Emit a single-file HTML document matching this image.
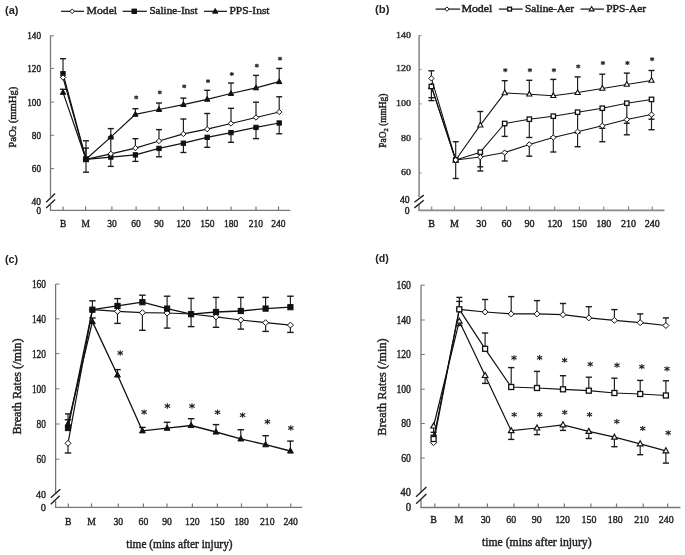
<!DOCTYPE html>
<html><head><meta charset="utf-8"><title>Figure</title>
<style>
html,body{margin:0;padding:0;background:#fff;}
body{width:685px;height:555px;overflow:hidden;}
svg{display:block;filter:blur(0.45px);}
</style></head>
<body>
<svg width="685" height="555" viewBox="0 0 685 555">
<rect width="685" height="555" fill="#fff"/>
<text x="5" y="13.6" font-size="10.5" font-family='"Liberation Sans", sans-serif' font-weight="bold" fill="#222" text-anchor="start" textLength="13.4" lengthAdjust="spacingAndGlyphs">(a)</text>
<line x1="61" y1="11.3" x2="84" y2="11.3" stroke="#111" stroke-width="1.2"/>
<polygon points="72.2,9 74.5,11.3 72.2,13.6 69.9,11.3" fill="#fff" stroke="#111" stroke-width="1"/>
<text x="86.5" y="14.4" font-size="10.6" font-family='"Liberation Serif", serif' font-weight="normal" fill="#1e1e1e" stroke="#1e1e1e" stroke-width="0.42" text-anchor="start" textLength="30.6" lengthAdjust="spacingAndGlyphs">Model</text>
<line x1="122.6" y1="11.3" x2="146.8" y2="11.3" stroke="#111" stroke-width="1.2"/>
<rect x="132" y="9.1" width="4.4" height="4.4" fill="#111" stroke="#111" stroke-width="1"/>
<text x="149.4" y="14.4" font-size="10.6" font-family='"Liberation Serif", serif' font-weight="normal" fill="#1e1e1e" stroke="#1e1e1e" stroke-width="0.42" text-anchor="start" textLength="48.2" lengthAdjust="spacingAndGlyphs">Saline-Inst</text>
<line x1="204" y1="11.3" x2="227" y2="11.3" stroke="#111" stroke-width="1.2"/>
<polygon points="215.2,8.49 217.8,13.17 212.6,13.17" fill="#111" stroke="#111" stroke-width="1" stroke-linejoin="miter"/>
<text x="229.5" y="14.4" font-size="10.6" font-family='"Liberation Serif", serif' font-weight="normal" fill="#1e1e1e" stroke="#1e1e1e" stroke-width="0.42" text-anchor="start" textLength="40" lengthAdjust="spacingAndGlyphs">PPS-Inst</text>
<line x1="50.5" y1="35.5" x2="50.5" y2="196.5" stroke="#777" stroke-width="1.3"/>
<line x1="50.5" y1="205" x2="50.5" y2="210.4" stroke="#777" stroke-width="1.3"/>
<line x1="49.85" y1="210.4" x2="290.3" y2="210.4" stroke="#777" stroke-width="1.3"/>
<line x1="50.5" y1="35.8" x2="54" y2="35.8" stroke="#777" stroke-width="1"/>
<line x1="50.5" y1="68.4" x2="54" y2="68.4" stroke="#777" stroke-width="1"/>
<line x1="50.5" y1="102.1" x2="54" y2="102.1" stroke="#777" stroke-width="1"/>
<line x1="50.5" y1="135.3" x2="54" y2="135.3" stroke="#777" stroke-width="1"/>
<line x1="50.5" y1="168.6" x2="54" y2="168.6" stroke="#777" stroke-width="1"/>
<line x1="63.1" y1="206.4" x2="63.1" y2="210.4" stroke="#777" stroke-width="1.2"/>
<line x1="85.6" y1="206.4" x2="85.6" y2="210.4" stroke="#777" stroke-width="1.2"/>
<line x1="111.9" y1="206.4" x2="111.9" y2="210.4" stroke="#777" stroke-width="1.2"/>
<line x1="136.1" y1="206.4" x2="136.1" y2="210.4" stroke="#777" stroke-width="1.2"/>
<line x1="159" y1="206.4" x2="159" y2="210.4" stroke="#777" stroke-width="1.2"/>
<line x1="183.5" y1="206.4" x2="183.5" y2="210.4" stroke="#777" stroke-width="1.2"/>
<line x1="207.4" y1="206.4" x2="207.4" y2="210.4" stroke="#777" stroke-width="1.2"/>
<line x1="231.1" y1="206.4" x2="231.1" y2="210.4" stroke="#777" stroke-width="1.2"/>
<line x1="256" y1="206.4" x2="256" y2="210.4" stroke="#777" stroke-width="1.2"/>
<line x1="278.5" y1="206.4" x2="278.5" y2="210.4" stroke="#777" stroke-width="1.2"/>
<line x1="46.2" y1="202.3" x2="55.1" y2="193.6" stroke="#222" stroke-width="1.4"/>
<line x1="46.2" y1="208" x2="55.1" y2="199.6" stroke="#222" stroke-width="1.4"/>
<text x="41" y="39.2" font-size="10.2" font-family='"Liberation Serif", serif' font-weight="normal" fill="#1e1e1e" stroke="#1e1e1e" stroke-width="0.42" text-anchor="end" textLength="13.8" lengthAdjust="spacingAndGlyphs">140</text>
<text x="41" y="71.8" font-size="10.2" font-family='"Liberation Serif", serif' font-weight="normal" fill="#1e1e1e" stroke="#1e1e1e" stroke-width="0.42" text-anchor="end" textLength="13.8" lengthAdjust="spacingAndGlyphs">120</text>
<text x="41" y="105.5" font-size="10.2" font-family='"Liberation Serif", serif' font-weight="normal" fill="#1e1e1e" stroke="#1e1e1e" stroke-width="0.42" text-anchor="end" textLength="13.8" lengthAdjust="spacingAndGlyphs">100</text>
<text x="41" y="138.7" font-size="10.2" font-family='"Liberation Serif", serif' font-weight="normal" fill="#1e1e1e" stroke="#1e1e1e" stroke-width="0.42" text-anchor="end" textLength="9.2" lengthAdjust="spacingAndGlyphs">80</text>
<text x="41" y="172" font-size="10.2" font-family='"Liberation Serif", serif' font-weight="normal" fill="#1e1e1e" stroke="#1e1e1e" stroke-width="0.42" text-anchor="end" textLength="9.2" lengthAdjust="spacingAndGlyphs">60</text>
<text x="41" y="205.2" font-size="10.2" font-family='"Liberation Serif", serif' font-weight="normal" fill="#1e1e1e" stroke="#1e1e1e" stroke-width="0.42" text-anchor="end" textLength="9.4" lengthAdjust="spacingAndGlyphs">40</text>
<text x="41" y="214.3" font-size="10.2" font-family='"Liberation Serif", serif' font-weight="normal" fill="#1e1e1e" stroke="#1e1e1e" stroke-width="0.42" text-anchor="end" textLength="4.6" lengthAdjust="spacingAndGlyphs">0</text>
<g transform="translate(16.2,117.2) rotate(-90)">
<text x="0" y="0" font-size="10.6" font-family='"Liberation Serif", serif' font-weight="normal" fill="#1e1e1e" stroke="#1e1e1e" stroke-width="0.42" text-anchor="middle" textLength="61" lengthAdjust="spacingAndGlyphs">PaO<tspan font-size="7" dy="0">2</tspan> (mmHg)</text>
</g>
<text x="63.1" y="226.6" font-size="10.8" font-family='"Liberation Serif", serif' font-weight="normal" fill="#1e1e1e" stroke="#1e1e1e" stroke-width="0.42" text-anchor="middle" textLength="6.34" lengthAdjust="spacingAndGlyphs">B</text>
<text x="85.6" y="226.6" font-size="10.8" font-family='"Liberation Serif", serif' font-weight="normal" fill="#1e1e1e" stroke="#1e1e1e" stroke-width="0.42" text-anchor="middle" textLength="8.45" lengthAdjust="spacingAndGlyphs">M</text>
<text x="111.9" y="226.6" font-size="10.8" font-family='"Liberation Serif", serif' font-weight="normal" fill="#1e1e1e" stroke="#1e1e1e" stroke-width="0.42" text-anchor="middle" textLength="9.5" lengthAdjust="spacingAndGlyphs">30</text>
<text x="136.1" y="226.6" font-size="10.8" font-family='"Liberation Serif", serif' font-weight="normal" fill="#1e1e1e" stroke="#1e1e1e" stroke-width="0.42" text-anchor="middle" textLength="9.5" lengthAdjust="spacingAndGlyphs">60</text>
<text x="159" y="226.6" font-size="10.8" font-family='"Liberation Serif", serif' font-weight="normal" fill="#1e1e1e" stroke="#1e1e1e" stroke-width="0.42" text-anchor="middle" textLength="9.5" lengthAdjust="spacingAndGlyphs">90</text>
<text x="183.5" y="226.6" font-size="10.8" font-family='"Liberation Serif", serif' font-weight="normal" fill="#1e1e1e" stroke="#1e1e1e" stroke-width="0.42" text-anchor="middle" textLength="14.26" lengthAdjust="spacingAndGlyphs">120</text>
<text x="207.4" y="226.6" font-size="10.8" font-family='"Liberation Serif", serif' font-weight="normal" fill="#1e1e1e" stroke="#1e1e1e" stroke-width="0.42" text-anchor="middle" textLength="14.26" lengthAdjust="spacingAndGlyphs">150</text>
<text x="231.1" y="226.6" font-size="10.8" font-family='"Liberation Serif", serif' font-weight="normal" fill="#1e1e1e" stroke="#1e1e1e" stroke-width="0.42" text-anchor="middle" textLength="14.26" lengthAdjust="spacingAndGlyphs">180</text>
<text x="256" y="226.6" font-size="10.8" font-family='"Liberation Serif", serif' font-weight="normal" fill="#1e1e1e" stroke="#1e1e1e" stroke-width="0.42" text-anchor="middle" textLength="14.26" lengthAdjust="spacingAndGlyphs">210</text>
<text x="278.5" y="226.6" font-size="10.8" font-family='"Liberation Serif", serif' font-weight="normal" fill="#1e1e1e" stroke="#1e1e1e" stroke-width="0.42" text-anchor="middle" textLength="14.26" lengthAdjust="spacingAndGlyphs">240</text>
<line x1="63" y1="73.7" x2="63" y2="58.7" stroke="#1a1a1a" stroke-width="1.15"/>
<line x1="60" y1="58.7" x2="66" y2="58.7" stroke="#1a1a1a" stroke-width="1.4"/>
<line x1="63" y1="92.4" x2="63" y2="89.3" stroke="#1a1a1a" stroke-width="1.15"/>
<line x1="60" y1="89.3" x2="66" y2="89.3" stroke="#1a1a1a" stroke-width="1.4"/>
<line x1="86" y1="159.3" x2="86" y2="140.8" stroke="#1a1a1a" stroke-width="1.15"/>
<line x1="83" y1="140.8" x2="89" y2="140.8" stroke="#1a1a1a" stroke-width="1.4"/>
<line x1="86" y1="159.3" x2="86" y2="172.2" stroke="#1a1a1a" stroke-width="1.15"/>
<line x1="83" y1="172.2" x2="89" y2="172.2" stroke="#1a1a1a" stroke-width="1.4"/>
<line x1="86" y1="159.3" x2="86" y2="148.1" stroke="#1a1a1a" stroke-width="1.15"/>
<line x1="83" y1="148.1" x2="89" y2="148.1" stroke="#1a1a1a" stroke-width="1.4"/>
<line x1="110.8" y1="153.8" x2="110.8" y2="137" stroke="#1a1a1a" stroke-width="1.15"/>
<line x1="107.8" y1="137" x2="113.8" y2="137" stroke="#1a1a1a" stroke-width="1.4"/>
<line x1="110.8" y1="157.1" x2="110.8" y2="166.4" stroke="#1a1a1a" stroke-width="1.15"/>
<line x1="107.8" y1="166.4" x2="113.8" y2="166.4" stroke="#1a1a1a" stroke-width="1.4"/>
<line x1="110.8" y1="137.1" x2="110.8" y2="128.6" stroke="#1a1a1a" stroke-width="1.15"/>
<line x1="107.8" y1="128.6" x2="113.8" y2="128.6" stroke="#1a1a1a" stroke-width="1.4"/>
<line x1="135.4" y1="148.1" x2="135.4" y2="138.7" stroke="#1a1a1a" stroke-width="1.15"/>
<line x1="132.4" y1="138.7" x2="138.4" y2="138.7" stroke="#1a1a1a" stroke-width="1.4"/>
<line x1="135.4" y1="154.9" x2="135.4" y2="161.4" stroke="#1a1a1a" stroke-width="1.15"/>
<line x1="132.4" y1="161.4" x2="138.4" y2="161.4" stroke="#1a1a1a" stroke-width="1.4"/>
<line x1="135.4" y1="114.3" x2="135.4" y2="108.7" stroke="#1a1a1a" stroke-width="1.15"/>
<line x1="132.4" y1="108.7" x2="138.4" y2="108.7" stroke="#1a1a1a" stroke-width="1.4"/>
<line x1="159" y1="141" x2="159" y2="129.6" stroke="#1a1a1a" stroke-width="1.15"/>
<line x1="156" y1="129.6" x2="162" y2="129.6" stroke="#1a1a1a" stroke-width="1.4"/>
<line x1="159" y1="148.4" x2="159" y2="156.8" stroke="#1a1a1a" stroke-width="1.15"/>
<line x1="156" y1="156.8" x2="162" y2="156.8" stroke="#1a1a1a" stroke-width="1.4"/>
<line x1="159" y1="109.5" x2="159" y2="103" stroke="#1a1a1a" stroke-width="1.15"/>
<line x1="156" y1="103" x2="162" y2="103" stroke="#1a1a1a" stroke-width="1.4"/>
<line x1="183.4" y1="133.9" x2="183.4" y2="119" stroke="#1a1a1a" stroke-width="1.15"/>
<line x1="180.4" y1="119" x2="186.4" y2="119" stroke="#1a1a1a" stroke-width="1.4"/>
<line x1="183.4" y1="143.2" x2="183.4" y2="152.5" stroke="#1a1a1a" stroke-width="1.15"/>
<line x1="180.4" y1="152.5" x2="186.4" y2="152.5" stroke="#1a1a1a" stroke-width="1.4"/>
<line x1="183.4" y1="104.6" x2="183.4" y2="98.1" stroke="#1a1a1a" stroke-width="1.15"/>
<line x1="180.4" y1="98.1" x2="186.4" y2="98.1" stroke="#1a1a1a" stroke-width="1.4"/>
<line x1="207.2" y1="129.2" x2="207.2" y2="113.5" stroke="#1a1a1a" stroke-width="1.15"/>
<line x1="204.2" y1="113.5" x2="210.2" y2="113.5" stroke="#1a1a1a" stroke-width="1.4"/>
<line x1="207.2" y1="137.3" x2="207.2" y2="147.3" stroke="#1a1a1a" stroke-width="1.15"/>
<line x1="204.2" y1="147.3" x2="210.2" y2="147.3" stroke="#1a1a1a" stroke-width="1.4"/>
<line x1="207.2" y1="99.3" x2="207.2" y2="90.3" stroke="#1a1a1a" stroke-width="1.15"/>
<line x1="204.2" y1="90.3" x2="210.2" y2="90.3" stroke="#1a1a1a" stroke-width="1.4"/>
<line x1="231" y1="123.5" x2="231" y2="108.3" stroke="#1a1a1a" stroke-width="1.15"/>
<line x1="228" y1="108.3" x2="234" y2="108.3" stroke="#1a1a1a" stroke-width="1.4"/>
<line x1="231" y1="132.6" x2="231" y2="142.3" stroke="#1a1a1a" stroke-width="1.15"/>
<line x1="228" y1="142.3" x2="234" y2="142.3" stroke="#1a1a1a" stroke-width="1.4"/>
<line x1="231" y1="93.5" x2="231" y2="83" stroke="#1a1a1a" stroke-width="1.15"/>
<line x1="228" y1="83" x2="234" y2="83" stroke="#1a1a1a" stroke-width="1.4"/>
<line x1="256" y1="117.5" x2="256" y2="102.2" stroke="#1a1a1a" stroke-width="1.15"/>
<line x1="253" y1="102.2" x2="259" y2="102.2" stroke="#1a1a1a" stroke-width="1.4"/>
<line x1="256" y1="127.4" x2="256" y2="138.6" stroke="#1a1a1a" stroke-width="1.15"/>
<line x1="253" y1="138.6" x2="259" y2="138.6" stroke="#1a1a1a" stroke-width="1.4"/>
<line x1="256" y1="87.9" x2="256" y2="75.4" stroke="#1a1a1a" stroke-width="1.15"/>
<line x1="253" y1="75.4" x2="259" y2="75.4" stroke="#1a1a1a" stroke-width="1.4"/>
<line x1="279.2" y1="112" x2="279.2" y2="96.8" stroke="#1a1a1a" stroke-width="1.15"/>
<line x1="276.2" y1="96.8" x2="282.2" y2="96.8" stroke="#1a1a1a" stroke-width="1.4"/>
<line x1="279.2" y1="123" x2="279.2" y2="133.8" stroke="#1a1a1a" stroke-width="1.15"/>
<line x1="276.2" y1="133.8" x2="282.2" y2="133.8" stroke="#1a1a1a" stroke-width="1.4"/>
<line x1="279.2" y1="81.7" x2="279.2" y2="68.4" stroke="#1a1a1a" stroke-width="1.15"/>
<line x1="276.2" y1="68.4" x2="282.2" y2="68.4" stroke="#1a1a1a" stroke-width="1.4"/>
<polyline points="63,92.4 86,159.3 110.8,137.1 135.4,114.3 159,109.5 183.4,104.6 207.2,99.3 231,93.5 256,87.9 279.2,81.7" fill="none" stroke="#111" stroke-width="1.2" stroke-linejoin="round"/>
<polyline points="63,77.5 86,159.3 110.8,153.8 135.4,148.1 159,141 183.4,133.9 207.2,129.2 231,123.5 256,117.5 279.2,112" fill="none" stroke="#111" stroke-width="1.2" stroke-linejoin="round"/>
<polyline points="63,73.7 86,159.3 110.8,157.1 135.4,154.9 159,148.4 183.4,143.2 207.2,137.3 231,132.6 256,127.4 279.2,123" fill="none" stroke="#111" stroke-width="1.2" stroke-linejoin="round"/>
<polygon points="63,89.48 65.7,94.34 60.3,94.34" fill="#111" stroke="#111" stroke-width="1" stroke-linejoin="miter"/>
<polygon points="86,156.38 88.7,161.24 83.3,161.24" fill="#111" stroke="#111" stroke-width="1" stroke-linejoin="miter"/>
<polygon points="110.8,134.18 113.5,139.04 108.1,139.04" fill="#111" stroke="#111" stroke-width="1" stroke-linejoin="miter"/>
<polygon points="135.4,111.38 138.1,116.24 132.7,116.24" fill="#111" stroke="#111" stroke-width="1" stroke-linejoin="miter"/>
<polygon points="159,106.58 161.7,111.44 156.3,111.44" fill="#111" stroke="#111" stroke-width="1" stroke-linejoin="miter"/>
<polygon points="183.4,101.68 186.1,106.54 180.7,106.54" fill="#111" stroke="#111" stroke-width="1" stroke-linejoin="miter"/>
<polygon points="207.2,96.38 209.9,101.24 204.5,101.24" fill="#111" stroke="#111" stroke-width="1" stroke-linejoin="miter"/>
<polygon points="231,90.58 233.7,95.44 228.3,95.44" fill="#111" stroke="#111" stroke-width="1" stroke-linejoin="miter"/>
<polygon points="256,84.98 258.7,89.84 253.3,89.84" fill="#111" stroke="#111" stroke-width="1" stroke-linejoin="miter"/>
<polygon points="279.2,78.78 281.9,83.64 276.5,83.64" fill="#111" stroke="#111" stroke-width="1" stroke-linejoin="miter"/>
<rect x="60.85" y="71.55" width="4.3" height="4.3" fill="#111" stroke="#111" stroke-width="1"/>
<rect x="83.85" y="157.15" width="4.3" height="4.3" fill="#111" stroke="#111" stroke-width="1"/>
<rect x="108.65" y="154.95" width="4.3" height="4.3" fill="#111" stroke="#111" stroke-width="1"/>
<rect x="133.25" y="152.75" width="4.3" height="4.3" fill="#111" stroke="#111" stroke-width="1"/>
<rect x="156.85" y="146.25" width="4.3" height="4.3" fill="#111" stroke="#111" stroke-width="1"/>
<rect x="181.25" y="141.05" width="4.3" height="4.3" fill="#111" stroke="#111" stroke-width="1"/>
<rect x="205.05" y="135.15" width="4.3" height="4.3" fill="#111" stroke="#111" stroke-width="1"/>
<rect x="228.85" y="130.45" width="4.3" height="4.3" fill="#111" stroke="#111" stroke-width="1"/>
<rect x="253.85" y="125.25" width="4.3" height="4.3" fill="#111" stroke="#111" stroke-width="1"/>
<rect x="277.05" y="120.85" width="4.3" height="4.3" fill="#111" stroke="#111" stroke-width="1"/>
<polygon points="63,74.8 65.7,77.5 63,80.2 60.3,77.5" fill="#fff" stroke="#111" stroke-width="1"/>
<polygon points="86,156.6 88.7,159.3 86,162 83.3,159.3" fill="#fff" stroke="#111" stroke-width="1"/>
<polygon points="110.8,151.1 113.5,153.8 110.8,156.5 108.1,153.8" fill="#fff" stroke="#111" stroke-width="1"/>
<polygon points="135.4,145.4 138.1,148.1 135.4,150.8 132.7,148.1" fill="#fff" stroke="#111" stroke-width="1"/>
<polygon points="159,138.3 161.7,141 159,143.7 156.3,141" fill="#fff" stroke="#111" stroke-width="1"/>
<polygon points="183.4,131.2 186.1,133.9 183.4,136.6 180.7,133.9" fill="#fff" stroke="#111" stroke-width="1"/>
<polygon points="207.2,126.5 209.9,129.2 207.2,131.9 204.5,129.2" fill="#fff" stroke="#111" stroke-width="1"/>
<polygon points="231,120.8 233.7,123.5 231,126.2 228.3,123.5" fill="#fff" stroke="#111" stroke-width="1"/>
<polygon points="256,114.8 258.7,117.5 256,120.2 253.3,117.5" fill="#fff" stroke="#111" stroke-width="1"/>
<polygon points="279.2,109.3 281.9,112 279.2,114.7 276.5,112" fill="#fff" stroke="#111" stroke-width="1"/>
<rect x="83.6" y="156.9" width="4.8" height="4.8" fill="#111" stroke="#111" stroke-width="1"/>
<line x1="136.2" y1="95.5" x2="136.2" y2="99.3" stroke="#2a2a2a" stroke-width="1.2"/>
<line x1="134.31" y1="96.31" x2="138.09" y2="98.49" stroke="#2a2a2a" stroke-width="1.2"/>
<line x1="134.31" y1="98.49" x2="138.09" y2="96.31" stroke="#2a2a2a" stroke-width="1.2"/>
<line x1="159.8" y1="90.5" x2="159.8" y2="94.3" stroke="#2a2a2a" stroke-width="1.2"/>
<line x1="157.91" y1="91.31" x2="161.69" y2="93.49" stroke="#2a2a2a" stroke-width="1.2"/>
<line x1="157.91" y1="93.49" x2="161.69" y2="91.31" stroke="#2a2a2a" stroke-width="1.2"/>
<line x1="184.2" y1="84.4" x2="184.2" y2="88.2" stroke="#2a2a2a" stroke-width="1.2"/>
<line x1="182.31" y1="85.21" x2="186.09" y2="87.39" stroke="#2a2a2a" stroke-width="1.2"/>
<line x1="182.31" y1="87.39" x2="186.09" y2="85.21" stroke="#2a2a2a" stroke-width="1.2"/>
<line x1="208" y1="79.2" x2="208" y2="83" stroke="#2a2a2a" stroke-width="1.2"/>
<line x1="206.11" y1="80.01" x2="209.89" y2="82.19" stroke="#2a2a2a" stroke-width="1.2"/>
<line x1="206.11" y1="82.19" x2="209.89" y2="80.01" stroke="#2a2a2a" stroke-width="1.2"/>
<line x1="231.8" y1="72.1" x2="231.8" y2="75.9" stroke="#2a2a2a" stroke-width="1.2"/>
<line x1="229.91" y1="72.91" x2="233.69" y2="75.09" stroke="#2a2a2a" stroke-width="1.2"/>
<line x1="229.91" y1="75.09" x2="233.69" y2="72.91" stroke="#2a2a2a" stroke-width="1.2"/>
<line x1="256.8" y1="63.7" x2="256.8" y2="67.5" stroke="#2a2a2a" stroke-width="1.2"/>
<line x1="254.91" y1="64.51" x2="258.69" y2="66.69" stroke="#2a2a2a" stroke-width="1.2"/>
<line x1="254.91" y1="66.69" x2="258.69" y2="64.51" stroke="#2a2a2a" stroke-width="1.2"/>
<line x1="280" y1="56.8" x2="280" y2="60.6" stroke="#2a2a2a" stroke-width="1.2"/>
<line x1="278.11" y1="57.61" x2="281.89" y2="59.79" stroke="#2a2a2a" stroke-width="1.2"/>
<line x1="278.11" y1="59.79" x2="281.89" y2="57.61" stroke="#2a2a2a" stroke-width="1.2"/>
<text x="375" y="13.4" font-size="10.5" font-family='"Liberation Sans", sans-serif' font-weight="bold" fill="#222" text-anchor="start" textLength="14.4" lengthAdjust="spacingAndGlyphs">(b)</text>
<line x1="435.6" y1="9.1" x2="460" y2="9.1" stroke="#111" stroke-width="1.2"/>
<polygon points="447,6.9 449.2,9.1 447,11.3 444.8,9.1" fill="#fff" stroke="#111" stroke-width="1"/>
<text x="461.4" y="12.2" font-size="9.9" font-family='"Liberation Serif", serif' font-weight="normal" fill="#1e1e1e" stroke="#1e1e1e" stroke-width="0.42" text-anchor="start" textLength="31" lengthAdjust="spacingAndGlyphs">Model</text>
<line x1="498.8" y1="9.1" x2="522.7" y2="9.1" stroke="#111" stroke-width="1.2"/>
<rect x="507.7" y="7.2" width="3.8" height="3.8" fill="#fff" stroke="#111" stroke-width="1.3"/>
<text x="525" y="12.2" font-size="9.9" font-family='"Liberation Serif", serif' font-weight="normal" fill="#1e1e1e" stroke="#1e1e1e" stroke-width="0.42" text-anchor="start" textLength="49.1" lengthAdjust="spacingAndGlyphs">Saline-Aer</text>
<line x1="580.5" y1="9.1" x2="603.9" y2="9.1" stroke="#111" stroke-width="1.2"/>
<polygon points="591.6,6.51 594,10.83 589.2,10.83" fill="#fff" stroke="#111" stroke-width="1.1" stroke-linejoin="miter"/>
<text x="606.2" y="12.2" font-size="9.9" font-family='"Liberation Serif", serif' font-weight="normal" fill="#1e1e1e" stroke="#1e1e1e" stroke-width="0.42" text-anchor="start" textLength="40" lengthAdjust="spacingAndGlyphs">PPS-Aer</text>
<line x1="419.1" y1="35.5" x2="419.1" y2="197" stroke="#8a8a8a" stroke-width="1.6"/>
<line x1="419.1" y1="204.5" x2="419.1" y2="210.4" stroke="#8a8a8a" stroke-width="1.6"/>
<line x1="418.3" y1="210.4" x2="664.5" y2="210.4" stroke="#8a8a8a" stroke-width="1.6"/>
<line x1="419.1" y1="35.6" x2="421.6" y2="35.6" stroke="#8a8a8a" stroke-width="1"/>
<line x1="419.1" y1="69.4" x2="421.6" y2="69.4" stroke="#8a8a8a" stroke-width="1"/>
<line x1="419.1" y1="103.9" x2="421.6" y2="103.9" stroke="#8a8a8a" stroke-width="1"/>
<line x1="419.1" y1="138.8" x2="421.6" y2="138.8" stroke="#8a8a8a" stroke-width="1"/>
<line x1="419.1" y1="173" x2="421.6" y2="173" stroke="#8a8a8a" stroke-width="1"/>
<line x1="431.7" y1="206.4" x2="431.7" y2="210.4" stroke="#8a8a8a" stroke-width="1.2"/>
<line x1="454.5" y1="206.4" x2="454.5" y2="210.4" stroke="#8a8a8a" stroke-width="1.2"/>
<line x1="481.4" y1="206.4" x2="481.4" y2="210.4" stroke="#8a8a8a" stroke-width="1.2"/>
<line x1="506.5" y1="206.4" x2="506.5" y2="210.4" stroke="#8a8a8a" stroke-width="1.2"/>
<line x1="529.5" y1="206.4" x2="529.5" y2="210.4" stroke="#8a8a8a" stroke-width="1.2"/>
<line x1="554.7" y1="206.4" x2="554.7" y2="210.4" stroke="#8a8a8a" stroke-width="1.2"/>
<line x1="579.4" y1="206.4" x2="579.4" y2="210.4" stroke="#8a8a8a" stroke-width="1.2"/>
<line x1="603.7" y1="206.4" x2="603.7" y2="210.4" stroke="#8a8a8a" stroke-width="1.2"/>
<line x1="628.5" y1="206.4" x2="628.5" y2="210.4" stroke="#8a8a8a" stroke-width="1.2"/>
<line x1="652.3" y1="206.4" x2="652.3" y2="210.4" stroke="#8a8a8a" stroke-width="1.2"/>
<line x1="414.4" y1="202.3" x2="423.8" y2="195.1" stroke="#222" stroke-width="1.4"/>
<line x1="414.4" y1="207.9" x2="423.8" y2="200.3" stroke="#222" stroke-width="1.4"/>
<text x="411" y="37.6" font-size="8.8" font-family='"Liberation Serif", serif' font-weight="normal" fill="#333" stroke="#333" stroke-width="0.42" text-anchor="end" textLength="15" lengthAdjust="spacingAndGlyphs">140</text>
<text x="411" y="71.4" font-size="8.8" font-family='"Liberation Serif", serif' font-weight="normal" fill="#333" stroke="#333" stroke-width="0.42" text-anchor="end" textLength="15" lengthAdjust="spacingAndGlyphs">120</text>
<text x="411" y="105.9" font-size="8.8" font-family='"Liberation Serif", serif' font-weight="normal" fill="#333" stroke="#333" stroke-width="0.42" text-anchor="end" textLength="15" lengthAdjust="spacingAndGlyphs">100</text>
<text x="411" y="140.8" font-size="8.8" font-family='"Liberation Serif", serif' font-weight="normal" fill="#333" stroke="#333" stroke-width="0.42" text-anchor="end" textLength="10" lengthAdjust="spacingAndGlyphs">80</text>
<text x="411" y="175" font-size="8.8" font-family='"Liberation Serif", serif' font-weight="normal" fill="#333" stroke="#333" stroke-width="0.42" text-anchor="end" textLength="10" lengthAdjust="spacingAndGlyphs">60</text>
<text x="409.6" y="202.6" font-size="9.6" font-family='"Liberation Serif", serif' font-weight="normal" fill="#1e1e1e" stroke="#1e1e1e" stroke-width="0.42" text-anchor="end" textLength="9.6" lengthAdjust="spacingAndGlyphs">40</text>
<text x="409.6" y="214" font-size="9.6" font-family='"Liberation Serif", serif' font-weight="normal" fill="#1e1e1e" stroke="#1e1e1e" stroke-width="0.42" text-anchor="end" textLength="4.8" lengthAdjust="spacingAndGlyphs">0</text>
<g transform="translate(386.3,120.7) rotate(-90)">
<text x="0" y="0" font-size="9.4" font-family='"Liberation Serif", serif' font-weight="normal" fill="#1e1e1e" stroke="#1e1e1e" stroke-width="0.42" text-anchor="middle" textLength="54" lengthAdjust="spacingAndGlyphs">PaO<tspan font-size="6.5" dy="2">2</tspan><tspan dy="-2"> (mmHg)</tspan></text>
</g>
<text x="431.7" y="226.6" font-size="10.6" font-family='"Liberation Serif", serif' font-weight="normal" fill="#1e1e1e" stroke="#1e1e1e" stroke-width="0.42" text-anchor="middle" textLength="6.72" lengthAdjust="spacingAndGlyphs">B</text>
<text x="454.5" y="226.6" font-size="10.6" font-family='"Liberation Serif", serif' font-weight="normal" fill="#1e1e1e" stroke="#1e1e1e" stroke-width="0.42" text-anchor="middle" textLength="8.95" lengthAdjust="spacingAndGlyphs">M</text>
<text x="481.4" y="226.6" font-size="10.6" font-family='"Liberation Serif", serif' font-weight="normal" fill="#1e1e1e" stroke="#1e1e1e" stroke-width="0.42" text-anchor="middle" textLength="10.07" lengthAdjust="spacingAndGlyphs">30</text>
<text x="506.5" y="226.6" font-size="10.6" font-family='"Liberation Serif", serif' font-weight="normal" fill="#1e1e1e" stroke="#1e1e1e" stroke-width="0.42" text-anchor="middle" textLength="10.07" lengthAdjust="spacingAndGlyphs">60</text>
<text x="529.5" y="226.6" font-size="10.6" font-family='"Liberation Serif", serif' font-weight="normal" fill="#1e1e1e" stroke="#1e1e1e" stroke-width="0.42" text-anchor="middle" textLength="10.07" lengthAdjust="spacingAndGlyphs">90</text>
<text x="554.7" y="226.6" font-size="10.6" font-family='"Liberation Serif", serif' font-weight="normal" fill="#1e1e1e" stroke="#1e1e1e" stroke-width="0.42" text-anchor="middle" textLength="15.11" lengthAdjust="spacingAndGlyphs">120</text>
<text x="579.4" y="226.6" font-size="10.6" font-family='"Liberation Serif", serif' font-weight="normal" fill="#1e1e1e" stroke="#1e1e1e" stroke-width="0.42" text-anchor="middle" textLength="15.11" lengthAdjust="spacingAndGlyphs">150</text>
<text x="603.7" y="226.6" font-size="10.6" font-family='"Liberation Serif", serif' font-weight="normal" fill="#1e1e1e" stroke="#1e1e1e" stroke-width="0.42" text-anchor="middle" textLength="15.11" lengthAdjust="spacingAndGlyphs">180</text>
<text x="628.5" y="226.6" font-size="10.6" font-family='"Liberation Serif", serif' font-weight="normal" fill="#1e1e1e" stroke="#1e1e1e" stroke-width="0.42" text-anchor="middle" textLength="15.11" lengthAdjust="spacingAndGlyphs">210</text>
<text x="652.3" y="226.6" font-size="10.6" font-family='"Liberation Serif", serif' font-weight="normal" fill="#1e1e1e" stroke="#1e1e1e" stroke-width="0.42" text-anchor="middle" textLength="15.11" lengthAdjust="spacingAndGlyphs">240</text>
<line x1="431.4" y1="78.4" x2="431.4" y2="70.8" stroke="#1a1a1a" stroke-width="1.15"/>
<line x1="428.4" y1="70.8" x2="434.4" y2="70.8" stroke="#1a1a1a" stroke-width="1.4"/>
<line x1="431.4" y1="86.5" x2="431.4" y2="97.7" stroke="#1a1a1a" stroke-width="1.15"/>
<line x1="428.4" y1="97.7" x2="434.4" y2="97.7" stroke="#1a1a1a" stroke-width="1.4"/>
<line x1="431.4" y1="97.7" x2="431.4" y2="100.6" stroke="#1a1a1a" stroke-width="1.15"/>
<line x1="428.4" y1="100.6" x2="434.4" y2="100.6" stroke="#1a1a1a" stroke-width="1.4"/>
<line x1="455.7" y1="160" x2="455.7" y2="178.5" stroke="#1a1a1a" stroke-width="1.15"/>
<line x1="452.7" y1="178.5" x2="458.7" y2="178.5" stroke="#1a1a1a" stroke-width="1.4"/>
<line x1="455.7" y1="160" x2="455.7" y2="141.7" stroke="#1a1a1a" stroke-width="1.15"/>
<line x1="452.7" y1="141.7" x2="458.7" y2="141.7" stroke="#1a1a1a" stroke-width="1.4"/>
<line x1="480.3" y1="157.1" x2="480.3" y2="171" stroke="#1a1a1a" stroke-width="1.15"/>
<line x1="477.3" y1="171" x2="483.3" y2="171" stroke="#1a1a1a" stroke-width="1.4"/>
<line x1="480.3" y1="152.2" x2="480.3" y2="166.8" stroke="#1a1a1a" stroke-width="1.15"/>
<line x1="477.3" y1="166.8" x2="483.3" y2="166.8" stroke="#1a1a1a" stroke-width="1.4"/>
<line x1="480.3" y1="125.1" x2="480.3" y2="111.5" stroke="#1a1a1a" stroke-width="1.15"/>
<line x1="477.3" y1="111.5" x2="483.3" y2="111.5" stroke="#1a1a1a" stroke-width="1.4"/>
<line x1="504.7" y1="152.6" x2="504.7" y2="161" stroke="#1a1a1a" stroke-width="1.15"/>
<line x1="501.7" y1="161" x2="507.7" y2="161" stroke="#1a1a1a" stroke-width="1.4"/>
<line x1="504.7" y1="123.5" x2="504.7" y2="136.4" stroke="#1a1a1a" stroke-width="1.15"/>
<line x1="501.7" y1="136.4" x2="507.7" y2="136.4" stroke="#1a1a1a" stroke-width="1.4"/>
<line x1="504.7" y1="92.9" x2="504.7" y2="80.7" stroke="#1a1a1a" stroke-width="1.15"/>
<line x1="501.7" y1="80.7" x2="507.7" y2="80.7" stroke="#1a1a1a" stroke-width="1.4"/>
<line x1="529.3" y1="144.4" x2="529.3" y2="156.2" stroke="#1a1a1a" stroke-width="1.15"/>
<line x1="526.3" y1="156.2" x2="532.3" y2="156.2" stroke="#1a1a1a" stroke-width="1.4"/>
<line x1="529.3" y1="119.2" x2="529.3" y2="137.5" stroke="#1a1a1a" stroke-width="1.15"/>
<line x1="526.3" y1="137.5" x2="532.3" y2="137.5" stroke="#1a1a1a" stroke-width="1.4"/>
<line x1="529.3" y1="94.2" x2="529.3" y2="80.3" stroke="#1a1a1a" stroke-width="1.15"/>
<line x1="526.3" y1="80.3" x2="532.3" y2="80.3" stroke="#1a1a1a" stroke-width="1.4"/>
<line x1="553.3" y1="137.5" x2="553.3" y2="152" stroke="#1a1a1a" stroke-width="1.15"/>
<line x1="550.3" y1="152" x2="556.3" y2="152" stroke="#1a1a1a" stroke-width="1.4"/>
<line x1="553.3" y1="116.2" x2="553.3" y2="137" stroke="#1a1a1a" stroke-width="1.15"/>
<line x1="550.3" y1="137" x2="556.3" y2="137" stroke="#1a1a1a" stroke-width="1.4"/>
<line x1="553.3" y1="95.7" x2="553.3" y2="79.4" stroke="#1a1a1a" stroke-width="1.15"/>
<line x1="550.3" y1="79.4" x2="556.3" y2="79.4" stroke="#1a1a1a" stroke-width="1.4"/>
<line x1="577.6" y1="131.7" x2="577.6" y2="146.7" stroke="#1a1a1a" stroke-width="1.15"/>
<line x1="574.6" y1="146.7" x2="580.6" y2="146.7" stroke="#1a1a1a" stroke-width="1.4"/>
<line x1="577.6" y1="112.2" x2="577.6" y2="133" stroke="#1a1a1a" stroke-width="1.15"/>
<line x1="574.6" y1="133" x2="580.6" y2="133" stroke="#1a1a1a" stroke-width="1.4"/>
<line x1="577.6" y1="92.6" x2="577.6" y2="76.9" stroke="#1a1a1a" stroke-width="1.15"/>
<line x1="574.6" y1="76.9" x2="580.6" y2="76.9" stroke="#1a1a1a" stroke-width="1.4"/>
<line x1="602.3" y1="125.8" x2="602.3" y2="141.7" stroke="#1a1a1a" stroke-width="1.15"/>
<line x1="599.3" y1="141.7" x2="605.3" y2="141.7" stroke="#1a1a1a" stroke-width="1.4"/>
<line x1="602.3" y1="108.2" x2="602.3" y2="128.3" stroke="#1a1a1a" stroke-width="1.15"/>
<line x1="599.3" y1="128.3" x2="605.3" y2="128.3" stroke="#1a1a1a" stroke-width="1.4"/>
<line x1="602.3" y1="88.4" x2="602.3" y2="74.2" stroke="#1a1a1a" stroke-width="1.15"/>
<line x1="599.3" y1="74.2" x2="605.3" y2="74.2" stroke="#1a1a1a" stroke-width="1.4"/>
<line x1="626.8" y1="119.6" x2="626.8" y2="134.8" stroke="#1a1a1a" stroke-width="1.15"/>
<line x1="623.8" y1="134.8" x2="629.8" y2="134.8" stroke="#1a1a1a" stroke-width="1.4"/>
<line x1="626.8" y1="103.2" x2="626.8" y2="123.2" stroke="#1a1a1a" stroke-width="1.15"/>
<line x1="623.8" y1="123.2" x2="629.8" y2="123.2" stroke="#1a1a1a" stroke-width="1.4"/>
<line x1="626.8" y1="84.4" x2="626.8" y2="73.1" stroke="#1a1a1a" stroke-width="1.15"/>
<line x1="623.8" y1="73.1" x2="629.8" y2="73.1" stroke="#1a1a1a" stroke-width="1.4"/>
<line x1="651.5" y1="114.6" x2="651.5" y2="129.7" stroke="#1a1a1a" stroke-width="1.15"/>
<line x1="648.5" y1="129.7" x2="654.5" y2="129.7" stroke="#1a1a1a" stroke-width="1.4"/>
<line x1="651.5" y1="99.4" x2="651.5" y2="119.2" stroke="#1a1a1a" stroke-width="1.15"/>
<line x1="648.5" y1="119.2" x2="654.5" y2="119.2" stroke="#1a1a1a" stroke-width="1.4"/>
<line x1="651.5" y1="80.4" x2="651.5" y2="70.5" stroke="#1a1a1a" stroke-width="1.15"/>
<line x1="648.5" y1="70.5" x2="654.5" y2="70.5" stroke="#1a1a1a" stroke-width="1.4"/>
<polyline points="431.4,86.5 455.7,160 480.3,125.1 504.7,92.9 529.3,94.2 553.3,95.7 577.6,92.6 602.3,88.4 626.8,84.4 651.5,80.4" fill="none" stroke="#111" stroke-width="1.05" stroke-linejoin="round"/>
<polyline points="431.4,86.5 455.7,160 480.3,152.2 504.7,123.5 529.3,119.2 553.3,116.2 577.6,112.2 602.3,108.2 626.8,103.2 651.5,99.4" fill="none" stroke="#111" stroke-width="1.05" stroke-linejoin="round"/>
<polyline points="431.4,78.4 455.7,160 480.3,157.1 504.7,152.6 529.3,144.4 553.3,137.5 577.6,131.7 602.3,125.8 626.8,119.6 651.5,114.6" fill="none" stroke="#111" stroke-width="1.05" stroke-linejoin="round"/>
<polygon points="431.4,83.69 434,88.37 428.8,88.37" fill="#fff" stroke="#111" stroke-width="1.1" stroke-linejoin="miter"/>
<polygon points="455.7,157.19 458.3,161.87 453.1,161.87" fill="#fff" stroke="#111" stroke-width="1.1" stroke-linejoin="miter"/>
<polygon points="480.3,122.29 482.9,126.97 477.7,126.97" fill="#fff" stroke="#111" stroke-width="1.1" stroke-linejoin="miter"/>
<polygon points="504.7,90.09 507.3,94.77 502.1,94.77" fill="#fff" stroke="#111" stroke-width="1.1" stroke-linejoin="miter"/>
<polygon points="529.3,91.39 531.9,96.07 526.7,96.07" fill="#fff" stroke="#111" stroke-width="1.1" stroke-linejoin="miter"/>
<polygon points="553.3,92.89 555.9,97.57 550.7,97.57" fill="#fff" stroke="#111" stroke-width="1.1" stroke-linejoin="miter"/>
<polygon points="577.6,89.79 580.2,94.47 575,94.47" fill="#fff" stroke="#111" stroke-width="1.1" stroke-linejoin="miter"/>
<polygon points="602.3,85.59 604.9,90.27 599.7,90.27" fill="#fff" stroke="#111" stroke-width="1.1" stroke-linejoin="miter"/>
<polygon points="626.8,81.59 629.4,86.27 624.2,86.27" fill="#fff" stroke="#111" stroke-width="1.1" stroke-linejoin="miter"/>
<polygon points="651.5,77.59 654.1,82.27 648.9,82.27" fill="#fff" stroke="#111" stroke-width="1.1" stroke-linejoin="miter"/>
<rect x="429.2" y="84.3" width="4.4" height="4.4" fill="#fff" stroke="#111" stroke-width="1.3"/>
<rect x="453.5" y="157.8" width="4.4" height="4.4" fill="#fff" stroke="#111" stroke-width="1.3"/>
<rect x="478.1" y="150" width="4.4" height="4.4" fill="#fff" stroke="#111" stroke-width="1.3"/>
<rect x="502.5" y="121.3" width="4.4" height="4.4" fill="#fff" stroke="#111" stroke-width="1.3"/>
<rect x="527.1" y="117" width="4.4" height="4.4" fill="#fff" stroke="#111" stroke-width="1.3"/>
<rect x="551.1" y="114" width="4.4" height="4.4" fill="#fff" stroke="#111" stroke-width="1.3"/>
<rect x="575.4" y="110" width="4.4" height="4.4" fill="#fff" stroke="#111" stroke-width="1.3"/>
<rect x="600.1" y="106" width="4.4" height="4.4" fill="#fff" stroke="#111" stroke-width="1.3"/>
<rect x="624.6" y="101" width="4.4" height="4.4" fill="#fff" stroke="#111" stroke-width="1.3"/>
<rect x="649.3" y="97.2" width="4.4" height="4.4" fill="#fff" stroke="#111" stroke-width="1.3"/>
<polygon points="431.4,75.7 434.1,78.4 431.4,81.1 428.7,78.4" fill="#fff" stroke="#111" stroke-width="1"/>
<polygon points="455.7,157.3 458.4,160 455.7,162.7 453,160" fill="#fff" stroke="#111" stroke-width="1"/>
<polygon points="480.3,154.4 483,157.1 480.3,159.8 477.6,157.1" fill="#fff" stroke="#111" stroke-width="1"/>
<polygon points="504.7,149.9 507.4,152.6 504.7,155.3 502,152.6" fill="#fff" stroke="#111" stroke-width="1"/>
<polygon points="529.3,141.7 532,144.4 529.3,147.1 526.6,144.4" fill="#fff" stroke="#111" stroke-width="1"/>
<polygon points="553.3,134.8 556,137.5 553.3,140.2 550.6,137.5" fill="#fff" stroke="#111" stroke-width="1"/>
<polygon points="577.6,129 580.3,131.7 577.6,134.4 574.9,131.7" fill="#fff" stroke="#111" stroke-width="1"/>
<polygon points="602.3,123.1 605,125.8 602.3,128.5 599.6,125.8" fill="#fff" stroke="#111" stroke-width="1"/>
<polygon points="626.8,116.9 629.5,119.6 626.8,122.3 624.1,119.6" fill="#fff" stroke="#111" stroke-width="1"/>
<polygon points="651.5,111.9 654.2,114.6 651.5,117.3 648.8,114.6" fill="#fff" stroke="#111" stroke-width="1"/>
<line x1="505.3" y1="68.2" x2="505.3" y2="72.2" stroke="#2a2a2a" stroke-width="1.2"/>
<line x1="503.31" y1="69.05" x2="507.29" y2="71.35" stroke="#2a2a2a" stroke-width="1.2"/>
<line x1="503.31" y1="71.35" x2="507.29" y2="69.05" stroke="#2a2a2a" stroke-width="1.2"/>
<line x1="529.9" y1="68.2" x2="529.9" y2="72.2" stroke="#2a2a2a" stroke-width="1.2"/>
<line x1="527.91" y1="69.05" x2="531.89" y2="71.35" stroke="#2a2a2a" stroke-width="1.2"/>
<line x1="527.91" y1="71.35" x2="531.89" y2="69.05" stroke="#2a2a2a" stroke-width="1.2"/>
<line x1="553.9" y1="68.2" x2="553.9" y2="72.2" stroke="#2a2a2a" stroke-width="1.2"/>
<line x1="551.91" y1="69.05" x2="555.89" y2="71.35" stroke="#2a2a2a" stroke-width="1.2"/>
<line x1="551.91" y1="71.35" x2="555.89" y2="69.05" stroke="#2a2a2a" stroke-width="1.2"/>
<line x1="578.2" y1="64.4" x2="578.2" y2="68.4" stroke="#2a2a2a" stroke-width="1.2"/>
<line x1="576.21" y1="65.25" x2="580.19" y2="67.55" stroke="#2a2a2a" stroke-width="1.2"/>
<line x1="576.21" y1="67.55" x2="580.19" y2="65.25" stroke="#2a2a2a" stroke-width="1.2"/>
<line x1="602.9" y1="61" x2="602.9" y2="65" stroke="#2a2a2a" stroke-width="1.2"/>
<line x1="600.91" y1="61.85" x2="604.89" y2="64.15" stroke="#2a2a2a" stroke-width="1.2"/>
<line x1="600.91" y1="64.15" x2="604.89" y2="61.85" stroke="#2a2a2a" stroke-width="1.2"/>
<line x1="627.4" y1="61" x2="627.4" y2="65" stroke="#2a2a2a" stroke-width="1.2"/>
<line x1="625.41" y1="61.85" x2="629.39" y2="64.15" stroke="#2a2a2a" stroke-width="1.2"/>
<line x1="625.41" y1="64.15" x2="629.39" y2="61.85" stroke="#2a2a2a" stroke-width="1.2"/>
<line x1="652.1" y1="57.2" x2="652.1" y2="61.2" stroke="#2a2a2a" stroke-width="1.2"/>
<line x1="650.11" y1="58.05" x2="654.09" y2="60.35" stroke="#2a2a2a" stroke-width="1.2"/>
<line x1="650.11" y1="60.35" x2="654.09" y2="58.05" stroke="#2a2a2a" stroke-width="1.2"/>
<text x="5" y="263.2" font-size="10.5" font-family='"Liberation Sans", sans-serif' font-weight="bold" fill="#222" text-anchor="start" textLength="13.2" lengthAdjust="spacingAndGlyphs">(c)</text>
<line x1="55.6" y1="284" x2="55.6" y2="493.5" stroke="#777" stroke-width="1.3"/>
<line x1="55.6" y1="501" x2="55.6" y2="507.4" stroke="#777" stroke-width="1.3"/>
<line x1="54.95" y1="507.4" x2="302.3" y2="507.4" stroke="#777" stroke-width="1.3"/>
<line x1="55.6" y1="284.1" x2="59.4" y2="284.1" stroke="#777" stroke-width="1"/>
<line x1="55.6" y1="318.8" x2="59.4" y2="318.8" stroke="#777" stroke-width="1"/>
<line x1="55.6" y1="353.6" x2="59.4" y2="353.6" stroke="#777" stroke-width="1"/>
<line x1="55.6" y1="388.8" x2="59.4" y2="388.8" stroke="#777" stroke-width="1"/>
<line x1="55.6" y1="424" x2="59.4" y2="424" stroke="#777" stroke-width="1"/>
<line x1="55.6" y1="459.2" x2="59.4" y2="459.2" stroke="#777" stroke-width="1"/>
<line x1="68.3" y1="503.4" x2="68.3" y2="507.4" stroke="#777" stroke-width="1.2"/>
<line x1="91.5" y1="503.4" x2="91.5" y2="507.4" stroke="#777" stroke-width="1.2"/>
<line x1="118.3" y1="503.4" x2="118.3" y2="507.4" stroke="#777" stroke-width="1.2"/>
<line x1="143.4" y1="503.4" x2="143.4" y2="507.4" stroke="#777" stroke-width="1.2"/>
<line x1="167" y1="503.4" x2="167" y2="507.4" stroke="#777" stroke-width="1.2"/>
<line x1="192.4" y1="503.4" x2="192.4" y2="507.4" stroke="#777" stroke-width="1.2"/>
<line x1="217.4" y1="503.4" x2="217.4" y2="507.4" stroke="#777" stroke-width="1.2"/>
<line x1="241.5" y1="503.4" x2="241.5" y2="507.4" stroke="#777" stroke-width="1.2"/>
<line x1="267.3" y1="503.4" x2="267.3" y2="507.4" stroke="#777" stroke-width="1.2"/>
<line x1="290.7" y1="503.4" x2="290.7" y2="507.4" stroke="#777" stroke-width="1.2"/>
<line x1="50.8" y1="497.8" x2="60.3" y2="489.2" stroke="#222" stroke-width="1.4"/>
<line x1="50.8" y1="504.3" x2="59.7" y2="495.7" stroke="#222" stroke-width="1.4"/>
<text x="46" y="288" font-size="12" font-family='"Liberation Serif", serif' font-weight="normal" fill="#1e1e1e" stroke="#1e1e1e" stroke-width="0.42" text-anchor="end" textLength="14.1" lengthAdjust="spacingAndGlyphs">160</text>
<text x="46" y="322.7" font-size="12" font-family='"Liberation Serif", serif' font-weight="normal" fill="#1e1e1e" stroke="#1e1e1e" stroke-width="0.42" text-anchor="end" textLength="14.1" lengthAdjust="spacingAndGlyphs">140</text>
<text x="46" y="357.5" font-size="12" font-family='"Liberation Serif", serif' font-weight="normal" fill="#1e1e1e" stroke="#1e1e1e" stroke-width="0.42" text-anchor="end" textLength="14.1" lengthAdjust="spacingAndGlyphs">120</text>
<text x="46" y="392.7" font-size="12" font-family='"Liberation Serif", serif' font-weight="normal" fill="#1e1e1e" stroke="#1e1e1e" stroke-width="0.42" text-anchor="end" textLength="14.1" lengthAdjust="spacingAndGlyphs">100</text>
<text x="46" y="427.9" font-size="12" font-family='"Liberation Serif", serif' font-weight="normal" fill="#1e1e1e" stroke="#1e1e1e" stroke-width="0.42" text-anchor="end" textLength="9.4" lengthAdjust="spacingAndGlyphs">80</text>
<text x="46" y="463.1" font-size="12" font-family='"Liberation Serif", serif' font-weight="normal" fill="#1e1e1e" stroke="#1e1e1e" stroke-width="0.42" text-anchor="end" textLength="9.4" lengthAdjust="spacingAndGlyphs">60</text>
<text x="46" y="497.8" font-size="11.4" font-family='"Liberation Serif", serif' font-weight="normal" fill="#1e1e1e" stroke="#1e1e1e" stroke-width="0.42" text-anchor="end" textLength="10" lengthAdjust="spacingAndGlyphs">40</text>
<text x="46" y="510.6" font-size="11.4" font-family='"Liberation Serif", serif' font-weight="normal" fill="#1e1e1e" stroke="#1e1e1e" stroke-width="0.42" text-anchor="end" textLength="5.2" lengthAdjust="spacingAndGlyphs">0</text>
<g transform="translate(21.4,386.5) rotate(-90)">
<text x="0" y="0" font-size="12" font-family='"Liberation Serif", serif' font-weight="normal" fill="#1e1e1e" stroke="#1e1e1e" stroke-width="0.42" text-anchor="middle" textLength="96" lengthAdjust="spacingAndGlyphs">Breath Rates (/min)</text>
</g>
<text x="68.3" y="525.4" font-size="11.3" font-family='"Liberation Serif", serif' font-weight="normal" fill="#1e1e1e" stroke="#1e1e1e" stroke-width="0.42" text-anchor="middle" textLength="6.48" lengthAdjust="spacingAndGlyphs">B</text>
<text x="91.5" y="525.4" font-size="11.3" font-family='"Liberation Serif", serif' font-weight="normal" fill="#1e1e1e" stroke="#1e1e1e" stroke-width="0.42" text-anchor="middle" textLength="8.64" lengthAdjust="spacingAndGlyphs">M</text>
<text x="118.3" y="525.4" font-size="11.3" font-family='"Liberation Serif", serif' font-weight="normal" fill="#1e1e1e" stroke="#1e1e1e" stroke-width="0.42" text-anchor="middle" textLength="9.72" lengthAdjust="spacingAndGlyphs">30</text>
<text x="143.4" y="525.4" font-size="11.3" font-family='"Liberation Serif", serif' font-weight="normal" fill="#1e1e1e" stroke="#1e1e1e" stroke-width="0.42" text-anchor="middle" textLength="9.72" lengthAdjust="spacingAndGlyphs">60</text>
<text x="167" y="525.4" font-size="11.3" font-family='"Liberation Serif", serif' font-weight="normal" fill="#1e1e1e" stroke="#1e1e1e" stroke-width="0.42" text-anchor="middle" textLength="9.72" lengthAdjust="spacingAndGlyphs">90</text>
<text x="192.4" y="525.4" font-size="11.3" font-family='"Liberation Serif", serif' font-weight="normal" fill="#1e1e1e" stroke="#1e1e1e" stroke-width="0.42" text-anchor="middle" textLength="14.58" lengthAdjust="spacingAndGlyphs">120</text>
<text x="217.4" y="525.4" font-size="11.3" font-family='"Liberation Serif", serif' font-weight="normal" fill="#1e1e1e" stroke="#1e1e1e" stroke-width="0.42" text-anchor="middle" textLength="14.58" lengthAdjust="spacingAndGlyphs">150</text>
<text x="241.5" y="525.4" font-size="11.3" font-family='"Liberation Serif", serif' font-weight="normal" fill="#1e1e1e" stroke="#1e1e1e" stroke-width="0.42" text-anchor="middle" textLength="14.58" lengthAdjust="spacingAndGlyphs">180</text>
<text x="267.3" y="525.4" font-size="11.3" font-family='"Liberation Serif", serif' font-weight="normal" fill="#1e1e1e" stroke="#1e1e1e" stroke-width="0.42" text-anchor="middle" textLength="14.58" lengthAdjust="spacingAndGlyphs">210</text>
<text x="290.7" y="525.4" font-size="11.3" font-family='"Liberation Serif", serif' font-weight="normal" fill="#1e1e1e" stroke="#1e1e1e" stroke-width="0.42" text-anchor="middle" textLength="14.58" lengthAdjust="spacingAndGlyphs">240</text>
<text x="126.3" y="547.6" font-size="11.9" font-family='"Liberation Serif", serif' font-weight="normal" fill="#1e1e1e" stroke="#1e1e1e" stroke-width="0.42" text-anchor="start" textLength="106.3" lengthAdjust="spacingAndGlyphs">time (mins after injury)</text>
<line x1="68" y1="419.7" x2="68" y2="413.9" stroke="#1a1a1a" stroke-width="1.15"/>
<line x1="65" y1="413.9" x2="71" y2="413.9" stroke="#1a1a1a" stroke-width="1.4"/>
<line x1="68" y1="443.3" x2="68" y2="453" stroke="#1a1a1a" stroke-width="1.15"/>
<line x1="64.75" y1="453" x2="71.25" y2="453" stroke="#1a1a1a" stroke-width="1.4"/>
<line x1="68" y1="424" x2="68" y2="419.7" stroke="#1a1a1a" stroke-width="1.15"/>
<line x1="64.75" y1="419.7" x2="71.25" y2="419.7" stroke="#1a1a1a" stroke-width="1.4"/>
<line x1="92.4" y1="309.7" x2="92.4" y2="300.8" stroke="#1a1a1a" stroke-width="1.15"/>
<line x1="89.15" y1="300.8" x2="95.65" y2="300.8" stroke="#1a1a1a" stroke-width="1.4"/>
<line x1="92.4" y1="321.6" x2="92.4" y2="318" stroke="#1a1a1a" stroke-width="1.15"/>
<line x1="89.15" y1="318" x2="95.65" y2="318" stroke="#1a1a1a" stroke-width="1.4"/>
<line x1="117.5" y1="311.3" x2="117.5" y2="323.4" stroke="#1a1a1a" stroke-width="1.15"/>
<line x1="114.25" y1="323.4" x2="120.75" y2="323.4" stroke="#1a1a1a" stroke-width="1.4"/>
<line x1="117.5" y1="305.9" x2="117.5" y2="298.6" stroke="#1a1a1a" stroke-width="1.15"/>
<line x1="114.25" y1="298.6" x2="120.75" y2="298.6" stroke="#1a1a1a" stroke-width="1.4"/>
<line x1="117.5" y1="375" x2="117.5" y2="369.6" stroke="#1a1a1a" stroke-width="1.15"/>
<line x1="114.25" y1="369.6" x2="120.75" y2="369.6" stroke="#1a1a1a" stroke-width="1.4"/>
<line x1="142.4" y1="312.7" x2="142.4" y2="330.3" stroke="#1a1a1a" stroke-width="1.15"/>
<line x1="139.15" y1="330.3" x2="145.65" y2="330.3" stroke="#1a1a1a" stroke-width="1.4"/>
<line x1="142.4" y1="302.2" x2="142.4" y2="295.2" stroke="#1a1a1a" stroke-width="1.15"/>
<line x1="139.15" y1="295.2" x2="145.65" y2="295.2" stroke="#1a1a1a" stroke-width="1.4"/>
<line x1="142.4" y1="430.8" x2="142.4" y2="427.4" stroke="#1a1a1a" stroke-width="1.15"/>
<line x1="139.15" y1="427.4" x2="145.65" y2="427.4" stroke="#1a1a1a" stroke-width="1.4"/>
<line x1="167.1" y1="313" x2="167.1" y2="328.1" stroke="#1a1a1a" stroke-width="1.15"/>
<line x1="163.85" y1="328.1" x2="170.35" y2="328.1" stroke="#1a1a1a" stroke-width="1.4"/>
<line x1="167.1" y1="308.6" x2="167.1" y2="296.2" stroke="#1a1a1a" stroke-width="1.15"/>
<line x1="163.85" y1="296.2" x2="170.35" y2="296.2" stroke="#1a1a1a" stroke-width="1.4"/>
<line x1="167.1" y1="428.2" x2="167.1" y2="422.3" stroke="#1a1a1a" stroke-width="1.15"/>
<line x1="163.85" y1="422.3" x2="170.35" y2="422.3" stroke="#1a1a1a" stroke-width="1.4"/>
<line x1="191.1" y1="314" x2="191.1" y2="326.6" stroke="#1a1a1a" stroke-width="1.15"/>
<line x1="187.85" y1="326.6" x2="194.35" y2="326.6" stroke="#1a1a1a" stroke-width="1.4"/>
<line x1="191.1" y1="314.2" x2="191.1" y2="298.4" stroke="#1a1a1a" stroke-width="1.15"/>
<line x1="187.85" y1="298.4" x2="194.35" y2="298.4" stroke="#1a1a1a" stroke-width="1.4"/>
<line x1="191.1" y1="425.5" x2="191.1" y2="418.7" stroke="#1a1a1a" stroke-width="1.15"/>
<line x1="187.85" y1="418.7" x2="194.35" y2="418.7" stroke="#1a1a1a" stroke-width="1.4"/>
<line x1="216" y1="316.8" x2="216" y2="327.3" stroke="#1a1a1a" stroke-width="1.15"/>
<line x1="212.75" y1="327.3" x2="219.25" y2="327.3" stroke="#1a1a1a" stroke-width="1.4"/>
<line x1="216" y1="312" x2="216" y2="297.4" stroke="#1a1a1a" stroke-width="1.15"/>
<line x1="212.75" y1="297.4" x2="219.25" y2="297.4" stroke="#1a1a1a" stroke-width="1.4"/>
<line x1="216" y1="432" x2="216" y2="424.6" stroke="#1a1a1a" stroke-width="1.15"/>
<line x1="212.75" y1="424.6" x2="219.25" y2="424.6" stroke="#1a1a1a" stroke-width="1.4"/>
<line x1="240.8" y1="320" x2="240.8" y2="329.1" stroke="#1a1a1a" stroke-width="1.15"/>
<line x1="237.55" y1="329.1" x2="244.05" y2="329.1" stroke="#1a1a1a" stroke-width="1.4"/>
<line x1="240.8" y1="311" x2="240.8" y2="297.4" stroke="#1a1a1a" stroke-width="1.15"/>
<line x1="237.55" y1="297.4" x2="244.05" y2="297.4" stroke="#1a1a1a" stroke-width="1.4"/>
<line x1="240.8" y1="438.9" x2="240.8" y2="429.7" stroke="#1a1a1a" stroke-width="1.15"/>
<line x1="237.55" y1="429.7" x2="244.05" y2="429.7" stroke="#1a1a1a" stroke-width="1.4"/>
<line x1="265.6" y1="322.7" x2="265.6" y2="331.4" stroke="#1a1a1a" stroke-width="1.15"/>
<line x1="262.35" y1="331.4" x2="268.85" y2="331.4" stroke="#1a1a1a" stroke-width="1.4"/>
<line x1="265.6" y1="308.6" x2="265.6" y2="297.4" stroke="#1a1a1a" stroke-width="1.15"/>
<line x1="262.35" y1="297.4" x2="268.85" y2="297.4" stroke="#1a1a1a" stroke-width="1.4"/>
<line x1="265.6" y1="444.7" x2="265.6" y2="435.7" stroke="#1a1a1a" stroke-width="1.15"/>
<line x1="262.35" y1="435.7" x2="268.85" y2="435.7" stroke="#1a1a1a" stroke-width="1.4"/>
<line x1="290.4" y1="325.1" x2="290.4" y2="332.4" stroke="#1a1a1a" stroke-width="1.15"/>
<line x1="287.15" y1="332.4" x2="293.65" y2="332.4" stroke="#1a1a1a" stroke-width="1.4"/>
<line x1="290.4" y1="307.2" x2="290.4" y2="296.2" stroke="#1a1a1a" stroke-width="1.15"/>
<line x1="287.15" y1="296.2" x2="293.65" y2="296.2" stroke="#1a1a1a" stroke-width="1.4"/>
<line x1="290.4" y1="451" x2="290.4" y2="441.1" stroke="#1a1a1a" stroke-width="1.15"/>
<line x1="287.15" y1="441.1" x2="293.65" y2="441.1" stroke="#1a1a1a" stroke-width="1.4"/>
<polyline points="68,443.3 92.4,309.7 117.5,311.3 142.4,312.7 167.1,313 191.1,314 216,316.8 240.8,320 265.6,322.7 290.4,325.1" fill="none" stroke="#111" stroke-width="1.2" stroke-linejoin="round"/>
<polyline points="68,428 92.4,309.7 117.5,305.9 142.4,302.2 167.1,308.6 191.1,314.2 216,312 240.8,311 265.6,308.6 290.4,307.2" fill="none" stroke="#111" stroke-width="1.3" stroke-linejoin="round"/>
<polyline points="68,424 92.4,321.6 117.5,375 142.4,430.8 167.1,428.2 191.1,425.5 216,432 240.8,438.9 265.6,444.7 290.4,451" fill="none" stroke="#111" stroke-width="1.3" stroke-linejoin="round"/>
<polygon points="68,440.3 71,443.3 68,446.3 65,443.3" fill="#fff" stroke="#111" stroke-width="1"/>
<polygon points="92.4,306.7 95.4,309.7 92.4,312.7 89.4,309.7" fill="#fff" stroke="#111" stroke-width="1"/>
<polygon points="117.5,308.3 120.5,311.3 117.5,314.3 114.5,311.3" fill="#fff" stroke="#111" stroke-width="1"/>
<polygon points="142.4,309.7 145.4,312.7 142.4,315.7 139.4,312.7" fill="#fff" stroke="#111" stroke-width="1"/>
<polygon points="167.1,310 170.1,313 167.1,316 164.1,313" fill="#fff" stroke="#111" stroke-width="1"/>
<polygon points="191.1,311 194.1,314 191.1,317 188.1,314" fill="#fff" stroke="#111" stroke-width="1"/>
<polygon points="216,313.8 219,316.8 216,319.8 213,316.8" fill="#fff" stroke="#111" stroke-width="1"/>
<polygon points="240.8,317 243.8,320 240.8,323 237.8,320" fill="#fff" stroke="#111" stroke-width="1"/>
<polygon points="265.6,319.7 268.6,322.7 265.6,325.7 262.6,322.7" fill="#fff" stroke="#111" stroke-width="1"/>
<polygon points="290.4,322.1 293.4,325.1 290.4,328.1 287.4,325.1" fill="#fff" stroke="#111" stroke-width="1"/>
<rect x="65.4" y="425.4" width="5.2" height="5.2" fill="#111" stroke="#111" stroke-width="1"/>
<rect x="89.8" y="307.1" width="5.2" height="5.2" fill="#111" stroke="#111" stroke-width="1"/>
<rect x="114.9" y="303.3" width="5.2" height="5.2" fill="#111" stroke="#111" stroke-width="1"/>
<rect x="139.8" y="299.6" width="5.2" height="5.2" fill="#111" stroke="#111" stroke-width="1"/>
<rect x="164.5" y="306" width="5.2" height="5.2" fill="#111" stroke="#111" stroke-width="1"/>
<rect x="188.5" y="311.6" width="5.2" height="5.2" fill="#111" stroke="#111" stroke-width="1"/>
<rect x="213.4" y="309.4" width="5.2" height="5.2" fill="#111" stroke="#111" stroke-width="1"/>
<rect x="238.2" y="308.4" width="5.2" height="5.2" fill="#111" stroke="#111" stroke-width="1"/>
<rect x="263" y="306" width="5.2" height="5.2" fill="#111" stroke="#111" stroke-width="1"/>
<rect x="287.8" y="304.6" width="5.2" height="5.2" fill="#111" stroke="#111" stroke-width="1"/>
<polygon points="68,420.87 70.9,426.09 65.1,426.09" fill="#111" stroke="#111" stroke-width="1" stroke-linejoin="miter"/>
<polygon points="92.4,318.47 95.3,323.69 89.5,323.69" fill="#111" stroke="#111" stroke-width="1" stroke-linejoin="miter"/>
<polygon points="117.5,371.87 120.4,377.09 114.6,377.09" fill="#111" stroke="#111" stroke-width="1" stroke-linejoin="miter"/>
<polygon points="142.4,427.67 145.3,432.89 139.5,432.89" fill="#111" stroke="#111" stroke-width="1" stroke-linejoin="miter"/>
<polygon points="167.1,425.07 170,430.29 164.2,430.29" fill="#111" stroke="#111" stroke-width="1" stroke-linejoin="miter"/>
<polygon points="191.1,422.37 194,427.59 188.2,427.59" fill="#111" stroke="#111" stroke-width="1" stroke-linejoin="miter"/>
<polygon points="216,428.87 218.9,434.09 213.1,434.09" fill="#111" stroke="#111" stroke-width="1" stroke-linejoin="miter"/>
<polygon points="240.8,435.77 243.7,440.99 237.9,440.99" fill="#111" stroke="#111" stroke-width="1" stroke-linejoin="miter"/>
<polygon points="265.6,441.57 268.5,446.79 262.7,446.79" fill="#111" stroke="#111" stroke-width="1" stroke-linejoin="miter"/>
<polygon points="290.4,447.87 293.3,453.09 287.5,453.09" fill="#111" stroke="#111" stroke-width="1" stroke-linejoin="miter"/>
<line x1="120.2" y1="350.3" x2="120.2" y2="355.7" stroke="#222" stroke-width="1.1"/>
<line x1="117.51" y1="351.45" x2="122.89" y2="354.55" stroke="#222" stroke-width="1.1"/>
<line x1="117.51" y1="354.55" x2="122.89" y2="351.45" stroke="#222" stroke-width="1.1"/>
<line x1="144.1" y1="409.4" x2="144.1" y2="414.8" stroke="#222" stroke-width="1.1"/>
<line x1="141.41" y1="410.55" x2="146.79" y2="413.65" stroke="#222" stroke-width="1.1"/>
<line x1="141.41" y1="413.65" x2="146.79" y2="410.55" stroke="#222" stroke-width="1.1"/>
<line x1="167.4" y1="403.3" x2="167.4" y2="408.7" stroke="#222" stroke-width="1.1"/>
<line x1="164.71" y1="404.45" x2="170.09" y2="407.55" stroke="#222" stroke-width="1.1"/>
<line x1="164.71" y1="407.55" x2="170.09" y2="404.45" stroke="#222" stroke-width="1.1"/>
<line x1="192" y1="403.3" x2="192" y2="408.7" stroke="#222" stroke-width="1.1"/>
<line x1="189.31" y1="404.45" x2="194.69" y2="407.55" stroke="#222" stroke-width="1.1"/>
<line x1="189.31" y1="407.55" x2="194.69" y2="404.45" stroke="#222" stroke-width="1.1"/>
<line x1="217.5" y1="409.6" x2="217.5" y2="415" stroke="#222" stroke-width="1.1"/>
<line x1="214.81" y1="410.75" x2="220.19" y2="413.85" stroke="#222" stroke-width="1.1"/>
<line x1="214.81" y1="413.85" x2="220.19" y2="410.75" stroke="#222" stroke-width="1.1"/>
<line x1="242.6" y1="412.4" x2="242.6" y2="417.8" stroke="#222" stroke-width="1.1"/>
<line x1="239.91" y1="413.55" x2="245.29" y2="416.65" stroke="#222" stroke-width="1.1"/>
<line x1="239.91" y1="416.65" x2="245.29" y2="413.55" stroke="#222" stroke-width="1.1"/>
<line x1="267.4" y1="419.1" x2="267.4" y2="424.5" stroke="#222" stroke-width="1.1"/>
<line x1="264.71" y1="420.25" x2="270.09" y2="423.35" stroke="#222" stroke-width="1.1"/>
<line x1="264.71" y1="423.35" x2="270.09" y2="420.25" stroke="#222" stroke-width="1.1"/>
<line x1="290.8" y1="425.3" x2="290.8" y2="430.7" stroke="#222" stroke-width="1.1"/>
<line x1="288.11" y1="426.45" x2="293.49" y2="429.55" stroke="#222" stroke-width="1.1"/>
<line x1="288.11" y1="429.55" x2="293.49" y2="426.45" stroke="#222" stroke-width="1.1"/>
<text x="375.2" y="262.3" font-size="10.5" font-family='"Liberation Sans", sans-serif' font-weight="bold" fill="#222" text-anchor="start" textLength="13.6" lengthAdjust="spacingAndGlyphs">(d)</text>
<line x1="421" y1="285" x2="421" y2="492.3" stroke="#777" stroke-width="1.3"/>
<line x1="421" y1="499.5" x2="421" y2="507.5" stroke="#777" stroke-width="1.3"/>
<line x1="420.35" y1="507.5" x2="680.4" y2="507.5" stroke="#777" stroke-width="1.3"/>
<line x1="421" y1="285.1" x2="424.8" y2="285.1" stroke="#777" stroke-width="1"/>
<line x1="421" y1="320" x2="424.8" y2="320" stroke="#777" stroke-width="1"/>
<line x1="421" y1="354.5" x2="424.8" y2="354.5" stroke="#777" stroke-width="1"/>
<line x1="421" y1="389.2" x2="424.8" y2="389.2" stroke="#777" stroke-width="1"/>
<line x1="421" y1="423.5" x2="424.8" y2="423.5" stroke="#777" stroke-width="1"/>
<line x1="421" y1="458.1" x2="424.8" y2="458.1" stroke="#777" stroke-width="1"/>
<line x1="434.8" y1="503.5" x2="434.8" y2="507.5" stroke="#777" stroke-width="1.2"/>
<line x1="458.8" y1="503.5" x2="458.8" y2="507.5" stroke="#777" stroke-width="1.2"/>
<line x1="487.4" y1="503.5" x2="487.4" y2="507.5" stroke="#777" stroke-width="1.2"/>
<line x1="514" y1="503.5" x2="514" y2="507.5" stroke="#777" stroke-width="1.2"/>
<line x1="538.2" y1="503.5" x2="538.2" y2="507.5" stroke="#777" stroke-width="1.2"/>
<line x1="564.4" y1="503.5" x2="564.4" y2="507.5" stroke="#777" stroke-width="1.2"/>
<line x1="590.9" y1="503.5" x2="590.9" y2="507.5" stroke="#777" stroke-width="1.2"/>
<line x1="616.5" y1="503.5" x2="616.5" y2="507.5" stroke="#777" stroke-width="1.2"/>
<line x1="643.2" y1="503.5" x2="643.2" y2="507.5" stroke="#777" stroke-width="1.2"/>
<line x1="667.6" y1="503.5" x2="667.6" y2="507.5" stroke="#777" stroke-width="1.2"/>
<line x1="416.1" y1="496.8" x2="426.4" y2="487.1" stroke="#222" stroke-width="1.4"/>
<line x1="416.1" y1="503.7" x2="426.4" y2="494" stroke="#222" stroke-width="1.4"/>
<text x="411" y="289" font-size="12.2" font-family='"Liberation Serif", serif' font-weight="normal" fill="#1e1e1e" stroke="#1e1e1e" stroke-width="0.42" text-anchor="end" textLength="14.61" lengthAdjust="spacingAndGlyphs">160</text>
<text x="411" y="323.9" font-size="12.2" font-family='"Liberation Serif", serif' font-weight="normal" fill="#1e1e1e" stroke="#1e1e1e" stroke-width="0.42" text-anchor="end" textLength="14.61" lengthAdjust="spacingAndGlyphs">140</text>
<text x="411" y="358.4" font-size="12.2" font-family='"Liberation Serif", serif' font-weight="normal" fill="#1e1e1e" stroke="#1e1e1e" stroke-width="0.42" text-anchor="end" textLength="14.61" lengthAdjust="spacingAndGlyphs">120</text>
<text x="411" y="393.1" font-size="12.2" font-family='"Liberation Serif", serif' font-weight="normal" fill="#1e1e1e" stroke="#1e1e1e" stroke-width="0.42" text-anchor="end" textLength="14.61" lengthAdjust="spacingAndGlyphs">100</text>
<text x="411" y="427.4" font-size="12.2" font-family='"Liberation Serif", serif' font-weight="normal" fill="#1e1e1e" stroke="#1e1e1e" stroke-width="0.42" text-anchor="end" textLength="9.74" lengthAdjust="spacingAndGlyphs">80</text>
<text x="411" y="462" font-size="12.2" font-family='"Liberation Serif", serif' font-weight="normal" fill="#1e1e1e" stroke="#1e1e1e" stroke-width="0.42" text-anchor="end" textLength="9.74" lengthAdjust="spacingAndGlyphs">60</text>
<text x="411" y="496.4" font-size="11.6" font-family='"Liberation Serif", serif' font-weight="normal" fill="#1e1e1e" stroke="#1e1e1e" stroke-width="0.42" text-anchor="end" textLength="10.4" lengthAdjust="spacingAndGlyphs">40</text>
<text x="411.2" y="510.6" font-size="11.6" font-family='"Liberation Serif", serif' font-weight="normal" fill="#1e1e1e" stroke="#1e1e1e" stroke-width="0.42" text-anchor="end" textLength="5.4" lengthAdjust="spacingAndGlyphs">0</text>
<g transform="translate(386.4,387.0) rotate(-90)">
<text x="0" y="0" font-size="12" font-family='"Liberation Serif", serif' font-weight="normal" fill="#1e1e1e" stroke="#1e1e1e" stroke-width="0.42" text-anchor="middle" textLength="97.3" lengthAdjust="spacingAndGlyphs">Breath Rates (/min)</text>
</g>
<text x="433.6" y="523.2" font-size="11.3" font-family='"Liberation Serif", serif' font-weight="normal" fill="#1e1e1e" stroke="#1e1e1e" stroke-width="0.42" text-anchor="middle" textLength="6.63" lengthAdjust="spacingAndGlyphs">B</text>
<text x="458.8" y="523.2" font-size="11.3" font-family='"Liberation Serif", serif' font-weight="normal" fill="#1e1e1e" stroke="#1e1e1e" stroke-width="0.42" text-anchor="middle" textLength="8.84" lengthAdjust="spacingAndGlyphs">M</text>
<text x="485.6" y="523.2" font-size="11.3" font-family='"Liberation Serif", serif' font-weight="normal" fill="#1e1e1e" stroke="#1e1e1e" stroke-width="0.42" text-anchor="middle" textLength="9.94" lengthAdjust="spacingAndGlyphs">30</text>
<text x="511.2" y="523.2" font-size="11.3" font-family='"Liberation Serif", serif' font-weight="normal" fill="#1e1e1e" stroke="#1e1e1e" stroke-width="0.42" text-anchor="middle" textLength="9.94" lengthAdjust="spacingAndGlyphs">60</text>
<text x="536.8" y="523.2" font-size="11.3" font-family='"Liberation Serif", serif' font-weight="normal" fill="#1e1e1e" stroke="#1e1e1e" stroke-width="0.42" text-anchor="middle" textLength="9.94" lengthAdjust="spacingAndGlyphs">90</text>
<text x="562.6" y="523.2" font-size="11.3" font-family='"Liberation Serif", serif' font-weight="normal" fill="#1e1e1e" stroke="#1e1e1e" stroke-width="0.42" text-anchor="middle" textLength="14.92" lengthAdjust="spacingAndGlyphs">120</text>
<text x="589" y="523.2" font-size="11.3" font-family='"Liberation Serif", serif' font-weight="normal" fill="#1e1e1e" stroke="#1e1e1e" stroke-width="0.42" text-anchor="middle" textLength="14.92" lengthAdjust="spacingAndGlyphs">150</text>
<text x="615.2" y="523.2" font-size="11.3" font-family='"Liberation Serif", serif' font-weight="normal" fill="#1e1e1e" stroke="#1e1e1e" stroke-width="0.42" text-anchor="middle" textLength="14.92" lengthAdjust="spacingAndGlyphs">180</text>
<text x="641.6" y="523.2" font-size="11.3" font-family='"Liberation Serif", serif' font-weight="normal" fill="#1e1e1e" stroke="#1e1e1e" stroke-width="0.42" text-anchor="middle" textLength="14.92" lengthAdjust="spacingAndGlyphs">210</text>
<text x="666.2" y="523.2" font-size="11.3" font-family='"Liberation Serif", serif' font-weight="normal" fill="#1e1e1e" stroke="#1e1e1e" stroke-width="0.42" text-anchor="middle" textLength="14.92" lengthAdjust="spacingAndGlyphs">240</text>
<text x="481.9" y="546" font-size="11.9" font-family='"Liberation Serif", serif' font-weight="normal" fill="#1e1e1e" stroke="#1e1e1e" stroke-width="0.42" text-anchor="start" textLength="109.7" lengthAdjust="spacingAndGlyphs">time (mins after injury)</text>
<line x1="433.6" y1="432.3" x2="433.6" y2="432.3" stroke="#1a1a1a" stroke-width="1.15"/>
<line x1="430.6" y1="432.3" x2="436.6" y2="432.3" stroke="#1a1a1a" stroke-width="1.4"/>
<line x1="459.3" y1="309.3" x2="459.3" y2="297.4" stroke="#1a1a1a" stroke-width="1.15"/>
<line x1="456.3" y1="297.4" x2="462.3" y2="297.4" stroke="#1a1a1a" stroke-width="1.4"/>
<line x1="433.6" y1="426" x2="433.6" y2="435.2" stroke="#1a1a1a" stroke-width="1.15"/>
<line x1="430.5" y1="435.2" x2="436.7" y2="435.2" stroke="#1a1a1a" stroke-width="1.4"/>
<line x1="459.3" y1="309.3" x2="459.3" y2="301.4" stroke="#1a1a1a" stroke-width="1.15"/>
<line x1="456.2" y1="301.4" x2="462.4" y2="301.4" stroke="#1a1a1a" stroke-width="1.4"/>
<line x1="459.3" y1="321.2" x2="459.3" y2="325.5" stroke="#1a1a1a" stroke-width="1.15"/>
<line x1="456.2" y1="325.5" x2="462.4" y2="325.5" stroke="#1a1a1a" stroke-width="1.4"/>
<line x1="485.1" y1="312" x2="485.1" y2="299.5" stroke="#1a1a1a" stroke-width="1.15"/>
<line x1="482" y1="299.5" x2="488.2" y2="299.5" stroke="#1a1a1a" stroke-width="1.4"/>
<line x1="485.1" y1="348.8" x2="485.1" y2="333" stroke="#1a1a1a" stroke-width="1.15"/>
<line x1="482" y1="333" x2="488.2" y2="333" stroke="#1a1a1a" stroke-width="1.4"/>
<line x1="485.1" y1="375.5" x2="485.1" y2="383.4" stroke="#1a1a1a" stroke-width="1.15"/>
<line x1="482" y1="383.4" x2="488.2" y2="383.4" stroke="#1a1a1a" stroke-width="1.4"/>
<line x1="511.2" y1="313.9" x2="511.2" y2="296.6" stroke="#1a1a1a" stroke-width="1.15"/>
<line x1="508.1" y1="296.6" x2="514.3" y2="296.6" stroke="#1a1a1a" stroke-width="1.4"/>
<line x1="511.2" y1="387" x2="511.2" y2="367.6" stroke="#1a1a1a" stroke-width="1.15"/>
<line x1="508.1" y1="367.6" x2="514.3" y2="367.6" stroke="#1a1a1a" stroke-width="1.4"/>
<line x1="511.2" y1="430.7" x2="511.2" y2="439.4" stroke="#1a1a1a" stroke-width="1.15"/>
<line x1="508.1" y1="439.4" x2="514.3" y2="439.4" stroke="#1a1a1a" stroke-width="1.4"/>
<line x1="537" y1="313.9" x2="537" y2="300.6" stroke="#1a1a1a" stroke-width="1.15"/>
<line x1="533.9" y1="300.6" x2="540.1" y2="300.6" stroke="#1a1a1a" stroke-width="1.4"/>
<line x1="537" y1="388" x2="537" y2="371.4" stroke="#1a1a1a" stroke-width="1.15"/>
<line x1="533.9" y1="371.4" x2="540.1" y2="371.4" stroke="#1a1a1a" stroke-width="1.4"/>
<line x1="537" y1="428" x2="537" y2="434.6" stroke="#1a1a1a" stroke-width="1.15"/>
<line x1="533.9" y1="434.6" x2="540.1" y2="434.6" stroke="#1a1a1a" stroke-width="1.4"/>
<line x1="563" y1="314.7" x2="563" y2="303.5" stroke="#1a1a1a" stroke-width="1.15"/>
<line x1="559.9" y1="303.5" x2="566.1" y2="303.5" stroke="#1a1a1a" stroke-width="1.4"/>
<line x1="563" y1="389.3" x2="563" y2="375.7" stroke="#1a1a1a" stroke-width="1.15"/>
<line x1="559.9" y1="375.7" x2="566.1" y2="375.7" stroke="#1a1a1a" stroke-width="1.4"/>
<line x1="563" y1="424.8" x2="563" y2="430.4" stroke="#1a1a1a" stroke-width="1.15"/>
<line x1="559.9" y1="430.4" x2="566.1" y2="430.4" stroke="#1a1a1a" stroke-width="1.4"/>
<line x1="588.8" y1="317.9" x2="588.8" y2="306.7" stroke="#1a1a1a" stroke-width="1.15"/>
<line x1="585.7" y1="306.7" x2="591.9" y2="306.7" stroke="#1a1a1a" stroke-width="1.4"/>
<line x1="588.8" y1="390.7" x2="588.8" y2="377.2" stroke="#1a1a1a" stroke-width="1.15"/>
<line x1="585.7" y1="377.2" x2="591.9" y2="377.2" stroke="#1a1a1a" stroke-width="1.4"/>
<line x1="588.8" y1="431.4" x2="588.8" y2="438.5" stroke="#1a1a1a" stroke-width="1.15"/>
<line x1="585.7" y1="438.5" x2="591.9" y2="438.5" stroke="#1a1a1a" stroke-width="1.4"/>
<line x1="614.4" y1="320.3" x2="614.4" y2="309.6" stroke="#1a1a1a" stroke-width="1.15"/>
<line x1="611.3" y1="309.6" x2="617.5" y2="309.6" stroke="#1a1a1a" stroke-width="1.4"/>
<line x1="614.4" y1="393" x2="614.4" y2="378.2" stroke="#1a1a1a" stroke-width="1.15"/>
<line x1="611.3" y1="378.2" x2="617.5" y2="378.2" stroke="#1a1a1a" stroke-width="1.4"/>
<line x1="614.4" y1="437.2" x2="614.4" y2="446.7" stroke="#1a1a1a" stroke-width="1.15"/>
<line x1="611.3" y1="446.7" x2="617.5" y2="446.7" stroke="#1a1a1a" stroke-width="1.4"/>
<line x1="640.2" y1="322.7" x2="640.2" y2="313.9" stroke="#1a1a1a" stroke-width="1.15"/>
<line x1="637.1" y1="313.9" x2="643.3" y2="313.9" stroke="#1a1a1a" stroke-width="1.4"/>
<line x1="640.2" y1="394" x2="640.2" y2="380.4" stroke="#1a1a1a" stroke-width="1.15"/>
<line x1="637.1" y1="380.4" x2="643.3" y2="380.4" stroke="#1a1a1a" stroke-width="1.4"/>
<line x1="640.2" y1="443.8" x2="640.2" y2="454.7" stroke="#1a1a1a" stroke-width="1.15"/>
<line x1="637.1" y1="454.7" x2="643.3" y2="454.7" stroke="#1a1a1a" stroke-width="1.4"/>
<line x1="665.9" y1="325.5" x2="665.9" y2="317.9" stroke="#1a1a1a" stroke-width="1.15"/>
<line x1="662.8" y1="317.9" x2="669" y2="317.9" stroke="#1a1a1a" stroke-width="1.4"/>
<line x1="665.9" y1="395.5" x2="665.9" y2="380.8" stroke="#1a1a1a" stroke-width="1.15"/>
<line x1="662.8" y1="380.8" x2="669" y2="380.8" stroke="#1a1a1a" stroke-width="1.4"/>
<line x1="665.9" y1="450.8" x2="665.9" y2="463.1" stroke="#1a1a1a" stroke-width="1.15"/>
<line x1="662.8" y1="463.1" x2="669" y2="463.1" stroke="#1a1a1a" stroke-width="1.4"/>
<polyline points="433.6,442.7 459.3,309.3 485.1,312 511.2,313.9 537,313.9 563,314.7 588.8,317.9 614.4,320.3 640.2,322.7 665.9,325.5" fill="none" stroke="#111" stroke-width="1.2" stroke-linejoin="round"/>
<polyline points="433.6,439 459.3,309.3 485.1,348.8 511.2,387 537,388 563,389.3 588.8,390.7 614.4,393 640.2,394 665.9,395.5" fill="none" stroke="#111" stroke-width="1.2" stroke-linejoin="round"/>
<polyline points="433.6,426 459.3,321.2 485.1,375.5 511.2,430.7 537,428 563,424.8 588.8,431.4 614.4,437.2 640.2,443.8 665.9,450.8" fill="none" stroke="#111" stroke-width="1.2" stroke-linejoin="round"/>
<polygon points="433.6,439.7 436.6,442.7 433.6,445.7 430.6,442.7" fill="#fff" stroke="#111" stroke-width="1"/>
<polygon points="459.3,306.3 462.3,309.3 459.3,312.3 456.3,309.3" fill="#fff" stroke="#111" stroke-width="1"/>
<polygon points="485.1,309 488.1,312 485.1,315 482.1,312" fill="#fff" stroke="#111" stroke-width="1"/>
<polygon points="511.2,310.9 514.2,313.9 511.2,316.9 508.2,313.9" fill="#fff" stroke="#111" stroke-width="1"/>
<polygon points="537,310.9 540,313.9 537,316.9 534,313.9" fill="#fff" stroke="#111" stroke-width="1"/>
<polygon points="563,311.7 566,314.7 563,317.7 560,314.7" fill="#fff" stroke="#111" stroke-width="1"/>
<polygon points="588.8,314.9 591.8,317.9 588.8,320.9 585.8,317.9" fill="#fff" stroke="#111" stroke-width="1"/>
<polygon points="614.4,317.3 617.4,320.3 614.4,323.3 611.4,320.3" fill="#fff" stroke="#111" stroke-width="1"/>
<polygon points="640.2,319.7 643.2,322.7 640.2,325.7 637.2,322.7" fill="#fff" stroke="#111" stroke-width="1"/>
<polygon points="665.9,322.5 668.9,325.5 665.9,328.5 662.9,325.5" fill="#fff" stroke="#111" stroke-width="1"/>
<rect x="431.1" y="436.5" width="5" height="5" fill="#fff" stroke="#111" stroke-width="1.3"/>
<rect x="456.8" y="306.8" width="5" height="5" fill="#fff" stroke="#111" stroke-width="1.3"/>
<rect x="482.6" y="346.3" width="5" height="5" fill="#fff" stroke="#111" stroke-width="1.3"/>
<rect x="508.7" y="384.5" width="5" height="5" fill="#fff" stroke="#111" stroke-width="1.3"/>
<rect x="534.5" y="385.5" width="5" height="5" fill="#fff" stroke="#111" stroke-width="1.3"/>
<rect x="560.5" y="386.8" width="5" height="5" fill="#fff" stroke="#111" stroke-width="1.3"/>
<rect x="586.3" y="388.2" width="5" height="5" fill="#fff" stroke="#111" stroke-width="1.3"/>
<rect x="611.9" y="390.5" width="5" height="5" fill="#fff" stroke="#111" stroke-width="1.3"/>
<rect x="637.7" y="391.5" width="5" height="5" fill="#fff" stroke="#111" stroke-width="1.3"/>
<rect x="663.4" y="393" width="5" height="5" fill="#fff" stroke="#111" stroke-width="1.3"/>
<polygon points="433.6,422.98 436.4,428.02 430.8,428.02" fill="#fff" stroke="#111" stroke-width="1.2" stroke-linejoin="miter"/>
<polygon points="459.3,318.18 462.1,323.22 456.5,323.22" fill="#fff" stroke="#111" stroke-width="1.2" stroke-linejoin="miter"/>
<polygon points="485.1,372.48 487.9,377.52 482.3,377.52" fill="#fff" stroke="#111" stroke-width="1.2" stroke-linejoin="miter"/>
<polygon points="511.2,427.68 514,432.72 508.4,432.72" fill="#fff" stroke="#111" stroke-width="1.2" stroke-linejoin="miter"/>
<polygon points="537,424.98 539.8,430.02 534.2,430.02" fill="#fff" stroke="#111" stroke-width="1.2" stroke-linejoin="miter"/>
<polygon points="563,421.78 565.8,426.82 560.2,426.82" fill="#fff" stroke="#111" stroke-width="1.2" stroke-linejoin="miter"/>
<polygon points="588.8,428.38 591.6,433.42 586,433.42" fill="#fff" stroke="#111" stroke-width="1.2" stroke-linejoin="miter"/>
<polygon points="614.4,434.18 617.2,439.22 611.6,439.22" fill="#fff" stroke="#111" stroke-width="1.2" stroke-linejoin="miter"/>
<polygon points="640.2,440.78 643,445.82 637.4,445.82" fill="#fff" stroke="#111" stroke-width="1.2" stroke-linejoin="miter"/>
<polygon points="665.9,447.78 668.7,452.82 663.1,452.82" fill="#fff" stroke="#111" stroke-width="1.2" stroke-linejoin="miter"/>
<line x1="514" y1="355.2" x2="514" y2="360.4" stroke="#222" stroke-width="1.1"/>
<line x1="511.41" y1="356.31" x2="516.59" y2="359.3" stroke="#222" stroke-width="1.1"/>
<line x1="511.41" y1="359.3" x2="516.59" y2="356.31" stroke="#222" stroke-width="1.1"/>
<line x1="539.6" y1="355.1" x2="539.6" y2="360.3" stroke="#222" stroke-width="1.1"/>
<line x1="537.01" y1="356.2" x2="542.19" y2="359.19" stroke="#222" stroke-width="1.1"/>
<line x1="537.01" y1="359.19" x2="542.19" y2="356.2" stroke="#222" stroke-width="1.1"/>
<line x1="564.6" y1="357.6" x2="564.6" y2="362.8" stroke="#222" stroke-width="1.1"/>
<line x1="562.01" y1="358.7" x2="567.19" y2="361.69" stroke="#222" stroke-width="1.1"/>
<line x1="562.01" y1="361.69" x2="567.19" y2="358.7" stroke="#222" stroke-width="1.1"/>
<line x1="590.2" y1="361.6" x2="590.2" y2="366.8" stroke="#222" stroke-width="1.1"/>
<line x1="587.61" y1="362.7" x2="592.79" y2="365.69" stroke="#222" stroke-width="1.1"/>
<line x1="587.61" y1="365.69" x2="592.79" y2="362.7" stroke="#222" stroke-width="1.1"/>
<line x1="617" y1="362.6" x2="617" y2="367.8" stroke="#222" stroke-width="1.1"/>
<line x1="614.41" y1="363.7" x2="619.59" y2="366.69" stroke="#222" stroke-width="1.1"/>
<line x1="614.41" y1="366.69" x2="619.59" y2="363.7" stroke="#222" stroke-width="1.1"/>
<line x1="641.8" y1="364.1" x2="641.8" y2="369.3" stroke="#222" stroke-width="1.1"/>
<line x1="639.21" y1="365.2" x2="644.39" y2="368.19" stroke="#222" stroke-width="1.1"/>
<line x1="639.21" y1="368.19" x2="644.39" y2="365.2" stroke="#222" stroke-width="1.1"/>
<line x1="667" y1="366.2" x2="667" y2="371.4" stroke="#222" stroke-width="1.1"/>
<line x1="664.41" y1="367.31" x2="669.59" y2="370.3" stroke="#222" stroke-width="1.1"/>
<line x1="664.41" y1="370.3" x2="669.59" y2="367.31" stroke="#222" stroke-width="1.1"/>
<line x1="514.2" y1="412" x2="514.2" y2="417.2" stroke="#222" stroke-width="1.1"/>
<line x1="511.61" y1="413.11" x2="516.79" y2="416.1" stroke="#222" stroke-width="1.1"/>
<line x1="511.61" y1="416.1" x2="516.79" y2="413.11" stroke="#222" stroke-width="1.1"/>
<line x1="539.7" y1="412" x2="539.7" y2="417.2" stroke="#222" stroke-width="1.1"/>
<line x1="537.11" y1="413.11" x2="542.29" y2="416.1" stroke="#222" stroke-width="1.1"/>
<line x1="537.11" y1="416.1" x2="542.29" y2="413.11" stroke="#222" stroke-width="1.1"/>
<line x1="564.7" y1="409.8" x2="564.7" y2="415" stroke="#222" stroke-width="1.1"/>
<line x1="562.11" y1="410.9" x2="567.29" y2="413.89" stroke="#222" stroke-width="1.1"/>
<line x1="562.11" y1="413.89" x2="567.29" y2="410.9" stroke="#222" stroke-width="1.1"/>
<line x1="589.5" y1="412" x2="589.5" y2="417.2" stroke="#222" stroke-width="1.1"/>
<line x1="586.91" y1="413.11" x2="592.09" y2="416.1" stroke="#222" stroke-width="1.1"/>
<line x1="586.91" y1="416.1" x2="592.09" y2="413.11" stroke="#222" stroke-width="1.1"/>
<line x1="616.8" y1="419" x2="616.8" y2="424.2" stroke="#222" stroke-width="1.1"/>
<line x1="614.21" y1="420.11" x2="619.39" y2="423.1" stroke="#222" stroke-width="1.1"/>
<line x1="614.21" y1="423.1" x2="619.39" y2="420.11" stroke="#222" stroke-width="1.1"/>
<line x1="642.7" y1="425.9" x2="642.7" y2="431.1" stroke="#222" stroke-width="1.1"/>
<line x1="640.11" y1="427" x2="645.29" y2="430" stroke="#222" stroke-width="1.1"/>
<line x1="640.11" y1="430" x2="645.29" y2="427" stroke="#222" stroke-width="1.1"/>
<line x1="668.2" y1="430.2" x2="668.2" y2="435.4" stroke="#222" stroke-width="1.1"/>
<line x1="665.61" y1="431.31" x2="670.79" y2="434.3" stroke="#222" stroke-width="1.1"/>
<line x1="665.61" y1="434.3" x2="670.79" y2="431.31" stroke="#222" stroke-width="1.1"/>
</svg>
</body></html>
